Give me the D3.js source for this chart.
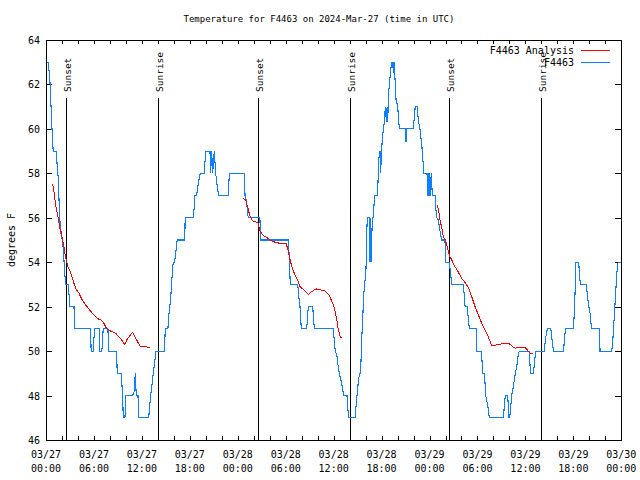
<!DOCTYPE html>
<html><head><meta charset="utf-8">
<script src="https://cdn.jsdelivr.net/npm/d3@7"></script>
<style>body{margin:0;background:#fff} svg{display:block}</style>
</head><body><svg id="c" width="640" height="480"></svg>
<script>
// ---- data (hours since 2024-03-27 00:00 UTC, degrees F) ----
const startUTC = Date.UTC(2024, 2, 27, 0, 0);
const blueHours = [0.25,0.43,0.55,0.68,0.80,0.90,1.28,1.41,1.53,1.66,1.78,1.91,2.06,2.16,2.28,2.41,2.50,2.75,2.87,3.00,3.50,3.63,5.58,5.65,5.90,6.08,6.66,6.74,6.99,7.16,7.75,7.83,8.84,8.91,9.41,9.59,9.67,9.88,10.00,10.84,11.05,11.17,11.30,11.51,11.64,12.85,13.10,13.43,13.60,13.77,14.81,14.93,15.25,15.42,15.59,15.75,15.92,16.09,16.26,16.42,17.30,17.39,17.42,18.43,18.55,18.64,18.85,19.05,19.18,19.30,19.81,19.98,20.52,20.61,20.73,20.86,21.06,21.24,21.40,21.61,22.82,22.94,24.82,24.91,25.11,25.21,25.31,26.77,26.86,30.32,30.45,30.57,31.50,31.63,31.79,31.95,32.63,32.76,32.83,33.38,33.58,35.95,36.07,36.20,36.41,36.57,36.70,36.91,37.13,37.25,37.67,37.75,37.88,38.67,38.80,38.92,39.14,39.30,39.42,39.51,39.64,39.76,40.05,40.14,40.21,40.46,40.55,40.64,40.72,40.80,40.97,41.10,41.18,41.47,41.56,41.64,41.77,41.84,41.89,41.97,42.10,42.22,42.35,42.47,42.60,42.69,42.77,42.85,42.97,43.15,43.31,43.40,43.47,43.56,43.69,43.81,44.03,44.10,44.23,44.94,45.07,45.17,45.96,46.09,46.21,46.46,46.59,46.80,47.02,47.14,47.27,47.68,47.81,47.93,48.06,48.22,48.35,48.69,48.77,48.90,49.10,49.31,49.53,49.94,49.98,50.48,50.60,50.78,52.24,52.32,52.45,52.74,52.86,52.99,53.83,53.92,54.46,54.58,54.67,54.83,54.96,55.03,55.15,55.31,55.48,57.23,57.36,57.48,57.78,57.95,58.03,58.16,58.28,58.49,58.61,58.74,58.91,59.08,59.24,60.50,60.62,61.00,61.17,61.30,62.34,62.50,62.68,62.75,63.18,63.34,63.51,64.76,64.89,65.00,65.99,66.12,66.25,66.33,66.67,66.74,66.87,67.59,67.75,67.88,68.09,68.18,68.30,69.26,69.34,70.81,70.94,71.06,71.19,71.31,71.44,71.60,72.00];
const blueTemps = [63.0,62.5,61.8,60.5,59.7,59.0,59.0,58.3,57.8,56.5,55.6,55.2,55.0,54.6,53.9,53.2,53.0,53.0,52.6,52.0,52.0,51.0,51.0,50.0,50.0,51.0,51.0,50.0,50.0,51.0,51.0,50.0,50.0,49.0,49.0,48.0,47.0,47.0,48.0,48.0,48.2,49.0,48.0,48.0,47.0,47.0,48.0,49.0,49.5,50.0,50.0,51.0,51.0,51.8,52.3,53.2,54.0,54.0,54.5,55.0,55.0,55.5,56.0,56.0,56.5,57.0,57.0,57.5,57.8,58.0,58.0,59.0,59.0,58.0,59.0,58.0,59.0,58.0,57.5,57.0,57.0,58.0,58.0,57.0,56.7,56.3,56.0,56.0,55.0,55.0,54.2,53.0,53.0,52.5,52.0,51.0,51.0,51.7,52.0,52.0,51.0,51.0,50.5,50.0,49.8,49.3,49.0,48.7,48.3,48.0,48.0,47.5,47.0,47.0,47.5,48.0,48.8,49.0,49.5,50.5,51.5,52.5,53.7,55.3,56.0,56.0,54.0,56.0,54.0,55.5,56.2,56.8,57.0,57.0,57.7,58.6,59.0,59.0,58.0,59.0,59.5,60.0,60.3,61.0,60.3,61.0,60.3,61.5,62.0,62.7,63.0,63.0,62.5,63.0,62.2,61.3,61.0,60.5,60.0,60.0,59.4,60.0,60.0,60.5,61.0,61.0,60.4,60.0,59.3,58.8,58.0,58.0,57.0,58.0,57.0,58.0,57.0,57.0,56.5,56.0,55.9,55.4,55.0,55.0,54.0,54.0,53.6,53.0,53.0,52.6,52.0,52.0,51.4,51.0,51.0,50.0,50.0,49.5,49.0,49.0,48.5,48.0,47.8,47.5,47.0,47.0,47.5,48.0,48.0,47.0,47.0,47.5,48.0,48.4,48.7,49.0,49.3,49.8,50.0,50.0,49.0,49.0,49.6,50.0,50.0,50.5,50.9,51.0,51.0,50.5,50.0,50.0,50.5,51.0,51.0,51.7,53.0,54.0,54.0,53.6,53.0,53.0,52.6,52.1,51.7,51.3,51.0,51.0,50.0,50.0,50.5,51.2,52.0,52.7,53.5,54.0,54.0];
// analysis series: null entries separate the three analysis runs
const redHours = [0.78,0.90,1.08,1.24,1.41,1.58,1.75,1.91,2.08,2.25,2.41,2.59,2.75,3.00,3.25,3.50,3.75,4.13,4.54,4.97,5.37,5.79,6.21,6.63,6.92,7.25,7.59,8.10,8.72,9.26,9.85,10.18,10.85,11.11,11.77,12.27,13.05,
  null,
  24.70,25.00,25.13,25.31,25.43,25.61,25.90,26.36,26.56,26.77,26.98,27.19,27.69,28.03,28.66,29.28,30.04,30.25,30.45,30.66,30.87,31.08,31.29,31.50,31.79,32.13,32.54,32.88,33.17,33.58,33.89,34.43,34.96,35.45,35.95,36.20,36.41,36.57,36.83,37.00,
  null,
  48.90,49.10,49.31,49.53,49.73,49.94,50.15,50.35,50.56,50.78,50.98,51.19,51.61,52.03,52.45,52.86,53.28,53.70,54.11,54.53,54.96,55.35,55.78,56.19,56.73,57.32,57.98,58.41,58.70,59.32,59.95,60.37,60.58,60.92];
const redTemps = [57.5,57.4,56.95,56.5,56.2,55.9,55.5,55.35,55.0,54.7,54.3,54.0,53.8,53.6,53.35,53.05,52.8,52.6,52.3,52.07,51.9,51.7,51.55,51.43,51.4,51.25,51.0,50.9,50.8,50.6,50.3,50.55,50.85,50.65,50.23,50.2,50.17,
  null,
  56.87,56.8,56.6,56.4,56.2,56.0,55.85,55.8,55.75,55.4,55.3,55.2,55.1,55.0,54.9,54.85,54.85,54.6,54.25,53.95,53.7,53.5,53.35,53.2,52.9,52.8,52.65,52.55,52.65,52.75,52.8,52.75,52.7,52.5,52.1,51.75,51.4,51.0,50.65,50.58,
  null,
  56.6,56.4,55.9,55.55,55.15,55.0,54.8,54.5,54.25,54.1,53.95,53.8,53.55,53.27,53.08,52.87,52.45,52.0,51.63,51.25,50.95,50.65,50.25,50.27,50.3,50.35,50.33,50.2,50.13,50.17,50.17,50.0,49.9,49.9];
const sunHours = [2.47, 14.07, 26.48, 38.08, 50.49, 62.00];
const sunLabels = ["Sunset", "Sunrise", "Sunset", "Sunrise", "Sunset", "Sunrise"];
const yTickValues = [46, 48, 50, 52, 54, 56, 58, 60, 62, 64];
const seriesNames = ["F4463 Analysis", "F4463"];
const titleText = "Temperature for F4463 on 2024-Mar-27 (time in UTC)";
const yLabelText = "degrees F";

// ---- layout ----
const L = 46, R = 621.3, T = 40, B = 440;
const FONT = "'DejaVu Sans Mono', monospace";
const BLUE = "#0a80ff", RED = "#ff0000";
const toDate = h => new Date(startUTC + h * 3600e3);

const svg = d3.select("#c");
svg.append("rect").attr("width", 640).attr("height", 480).attr("fill", "#fff");

const x = d3.scaleUtc().domain([toDate(0), toDate(72)]).range([L, R]);
const y = d3.scaleLinear().domain([46, 64]).range([B, T]);

// axes (ticks point inward)
const minorTicks = d3.utcHour.every(2).range(toDate(0), toDate(72.01));
const majorTicks = d3.utcHour.every(6).range(toDate(0), toDate(72.01));

const gBottom = svg.append("g").attr("transform", `translate(0,${B})`)
  .call(d3.axisBottom(x).tickValues(minorTicks).tickSize(-4).tickFormat(""));
const gTop = svg.append("g").attr("transform", `translate(0,${T})`)
  .call(d3.axisTop(x).tickValues(minorTicks).tickSize(-4).tickFormat(""));
const gLeft = svg.append("g").attr("transform", `translate(${L},0)`)
  .call(d3.axisLeft(y).tickValues(yTickValues).tickSize(-6).tickPadding(6).tickFormat(d3.format("d")));
const gRight = svg.append("g").attr("transform", `translate(${R},0)`)
  .call(d3.axisRight(y).tickValues(yTickValues).tickSize(-6).tickFormat(""));
[gBottom, gTop, gLeft, gRight].forEach(g => {
  g.select(".domain").remove();
  g.selectAll("line").attr("stroke", "#000").attr("shape-rendering", "crispEdges");
  g.selectAll("text").attr("font-family", FONT).attr("font-size", 10).attr("fill", "#000");
});
gLeft.selectAll("text").attr("dy", "0.35em");

// two-line date labels
const fmtD = d3.utcFormat("%m/%d"), fmtT = d3.utcFormat("%H:%M");
const xl = svg.append("g").attr("font-family", FONT).attr("font-size", 10).attr("text-anchor", "middle");
majorTicks.forEach(d => {
  const t = xl.append("text").attr("x", x(d)).attr("y", 458);
  t.append("tspan").attr("x", x(d)).text(fmtD(d));
  t.append("tspan").attr("x", x(d)).attr("dy", 14).text(fmtT(d));
});

// frame
svg.append("rect").attr("x", L).attr("y", T).attr("width", R - L).attr("height", B - T)
  .attr("fill", "none").attr("stroke", "#000").attr("shape-rendering", "crispEdges");

// sun events
const sg = svg.append("g");
sunHours.forEach((h, i) => {
  const xx = Math.round(x(toDate(h))) + 0.5;
  sg.append("line").attr("x1", xx).attr("x2", xx).attr("y1", 98).attr("y2", B)
    .attr("stroke", "#000").attr("stroke-width", 1);
  sg.append("text").attr("transform", `translate(${xx + 1},92) rotate(-90)`)
    .attr("text-anchor", "start").attr("dy", "0.35em")
    .attr("font-family", FONT).attr("font-size", 9.5).text(sunLabels[i]);
});

// series
const blueData = blueHours.map((h, i) => ({ t: toDate(h), v: blueTemps[i] }));
const redData = redHours.map((h, i) => ({ t: h == null ? null : toDate(h), v: redTemps[i] }));
const line = d3.line().defined(d => d.t != null && d.v != null).x(d => x(d.t)).y(d => y(d.v));

svg.append("path").datum(blueData).attr("d", line).attr("fill", "none")
  .attr("stroke", BLUE).attr("stroke-width", 1.1).attr("shape-rendering", "crispEdges");
svg.append("path").datum(redData).attr("d", line).attr("fill", "none")
  .attr("stroke", RED).attr("stroke-width", 1).attr("shape-rendering", "crispEdges");

// legend
const lg = svg.append("g").attr("font-family", FONT).attr("font-size", 10);
[[RED, 50], [BLUE, 62.5]].forEach(([c, yy], i) => {
  lg.append("text").attr("x", 574).attr("y", yy).attr("dy", "0.35em").attr("text-anchor", "end").text(seriesNames[i]);
  lg.append("line").attr("x1", 581).attr("x2", 610).attr("y1", yy).attr("y2", yy)
    .attr("stroke", c).attr("stroke-width", 1).attr("shape-rendering", "crispEdges");
});

// title and y label
svg.append("text").attr("x", 319).attr("y", 19).attr("dy", "0.35em").attr("text-anchor", "middle")
  .attr("font-family", FONT).attr("font-size", 9).text(titleText);
svg.append("text").attr("transform", "translate(11,240) rotate(-90)").attr("dy", "0.35em")
  .attr("text-anchor", "middle").attr("font-family", FONT).attr("font-size", 10).text(yLabelText);
</script></body></html>
